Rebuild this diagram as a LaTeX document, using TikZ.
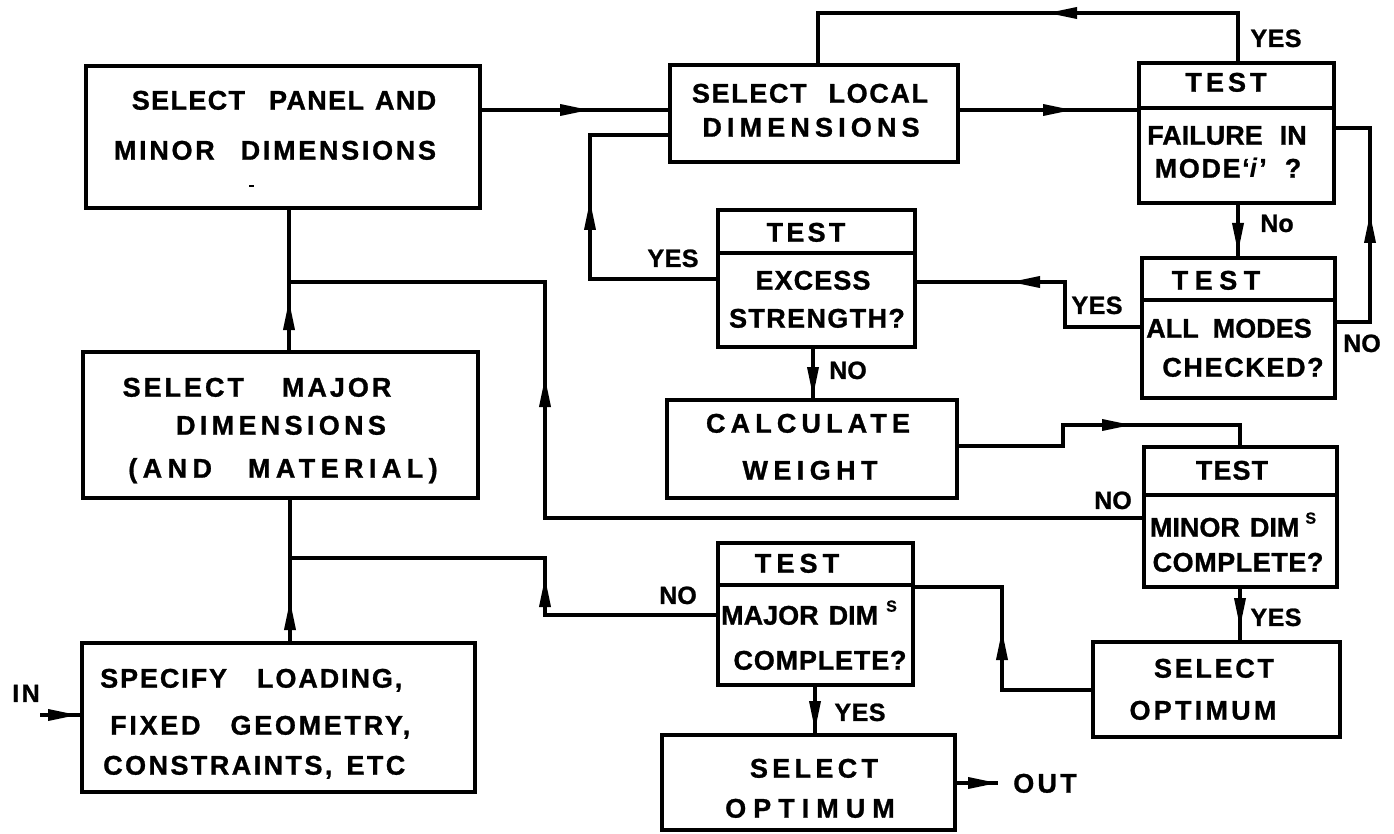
\documentclass[tikz,border=0pt]{standalone}
\usepackage{fontspec}
\setmainfont{Liberation Sans}[BoldFeatures={FakeBold=1}]
\usetikzlibrary{arrows.meta}
\newcommand{\lsp}[2]{{\addfontfeature{LetterSpace=#1}#2}}
\newcommand{\supS}{\raisebox{13pt}{\fontsize{16}{16}\selectfont S}}
\begin{document}
\begin{tikzpicture}[x=1pt,y=-1pt,
  box/.style={draw, line width=3.8pt, inner sep=0pt, rectangle},
  conn/.style={line width=3.5pt, line join=miter},
  ahead/.style={line width=3.5pt, -{Triangle[length=30pt,width=11pt]}},
  txt/.style={font=\fontsize{27}{30}\selectfont\bfseries, inner sep=0pt, text height=19.3pt, text depth=0pt},
  lbl/.style={font=\fontsize{25}{28}\selectfont\bfseries, inner sep=0pt, text height=17.9pt, text depth=0pt}]
\useasboundingbox (0,0) rectangle (1394,834);

% boxes
\node[box, minimum width=394pt, minimum height=142pt] (A) at (283,137) {};
\node[box, minimum width=395pt, minimum height=146pt] (B) at (280.5,425) {};
\node[box, minimum width=393pt, minimum height=149pt] (C) at (278.5,717.5) {};
\node[box, minimum width=288pt, minimum height=97pt] (L) at (814,113.5) {};
\node[box, minimum width=195pt, minimum height=140pt] (F) at (1236.5,133) {};
\node[box, minimum width=193pt, minimum height=140pt] (M) at (1238.5,328) {};
\node[box, minimum width=197pt, minimum height=137pt] (E) at (816.5,278.5) {};
\node[box, minimum width=290pt, minimum height=98pt] (W) at (812,449) {};
\node[box, minimum width=193pt, minimum height=140pt] (N) at (1240.5,517) {};
\node[box, minimum width=195pt, minimum height=142pt] (J) at (815.5,614) {};
\node[box, minimum width=247pt, minimum height=95pt] (P) at (1216.5,689.5) {};
\node[box, minimum width=293pt, minimum height=95pt] (Q) at (808.5,782.5) {};

% dividers of the test boxes
\draw[line width=3.8pt] (F.west |- 0,108) -- (F.east |- 0,108);
\draw[line width=3.8pt] (M.west |- 0,300) -- (M.east |- 0,300);
\draw[line width=3.8pt] (E.west |- 0,253) -- (E.east |- 0,253);
\draw[line width=3.8pt] (N.west |- 0,495) -- (N.east |- 0,495);
\draw[line width=3.8pt] (J.west |- 0,585) -- (J.east |- 0,585);

% stray mark
\draw[line width=2pt] (249,186) -- (254,186);

% texts
\node[txt] (tA1) at (284,100) {\lsp{5}{SELECT\hspace{24pt}PANEL\hspace{11pt}AND}};
\node[txt] (tA2) at (275,150) {\lsp{10}{MINOR\hspace{26pt}DIMENSIONS}};
\node[txt] (tB1) at (257,387) {\lsp{11}{SELECT\hspace{38pt}MAJOR}};
\node[txt] (tB2) at (281,425) {\lsp{16}{DIMENSIONS}};
\node[txt] (tB3) at (283,468) {\lsp{20}{(AND\hspace{36pt}MATERIAL)}};
\node[txt, anchor=west] (tC1) at (100,678) {\lsp{7}{SPECIFY\hspace{30pt}LOADING,}};
\node[txt, anchor=west] (tC2) at (110,725) {\lsp{10}{FIXED\hspace{30pt}GEOMETRY,}};
\node[txt, anchor=west] (tC3) at (103,765) {\lsp{9}{CONSTRAINTS,\hspace{14pt}ETC}};
\node[txt] (tL1) at (810,93) {\lsp{6}{SELECT\hspace{22pt}LOCAL}};
\node[txt] (tL2) at (811,127) {\lsp{19}{DIMENSIONS}};
\node[txt] (tF0) at (1226,82) {\lsp{15}{TEST}};
\node[txt] (tF1) at (1227,135) {\lsp{0}{FAILURE\hspace{17pt}IN}};
\node[txt] (tF2) at (1228,168) {\lsp{6}{MODE‘\textit{i}’\hspace{18pt}?}};
\node[txt] (tM0) at (1216,280) {\lsp{24}{TEST}};
\node[txt] (tM1) at (1229,328) {\lsp{0}{ALL\hspace{14pt}MODES}};
\node[txt] (tM2) at (1243,367) {\lsp{6}{CHECKED?}};
\node[txt] (tE0) at (806,232) {\lsp{12}{TEST}};
\node[txt] (tE1) at (813,280) {\lsp{4}{EXCESS}};
\node[txt] (tE2) at (817,318) {\lsp{5}{STRENGTH?}};
\node[txt] (tW1) at (808,423) {\lsp{19}{CALCULATE}};
\node[txt] (tW2) at (810,470) {\lsp{20}{WEIGHT}};
\node[txt] (tN0) at (1232,470) {\lsp{4}{TEST}};
\node[txt] (tN1) at (1233,527) {MINOR\hspace{10pt}DIM\hspace{6pt}\supS};
\node[txt] (tN2) at (1238,562) {\lsp{2}{COMPLETE?}};
\node[txt] (tJ0) at (797,563) {\lsp{19}{TEST}};
\node[txt] (tJ1) at (809,615) {MAJOR\hspace{10pt}DIM\hspace{8pt}\supS};
\node[txt] (tJ2) at (820,660) {\lsp{3}{COMPLETE?}};
\node[txt] (tP1) at (1214,668) {\lsp{10}{SELECT}};
\node[txt] (tP2) at (1203,710) {\lsp{12}{OPTIMUM}};
\node[txt] (tQ1) at (814,768) {\lsp{16}{SELECT}};
\node[txt] (tQ2) at (810,808) {\lsp{26}{OPTIMUM}};

% labels
\node[lbl] (lFy) at (1276,38) {\lsp{2}{YES}};
\node[lbl] (lFn) at (1277,223) {No};
\node[lbl] (lMn) at (1362,343) {NO};
\node[lbl] (lMy) at (1097,305) {\lsp{2}{YES}};
\node[lbl] (lEy) at (673,258) {\lsp{2}{YES}};
\node[lbl] (lEn) at (848,370) {NO};
\node[lbl] (lNn) at (1113,500) {NO};
\node[lbl] (lNy) at (1276,617) {\lsp{2}{YES}};
\node[lbl] (lJn) at (678,595) {NO};
\node[lbl] (lJy) at (860,712) {\lsp{2}{YES}};
\node[txt] (lout) at (1045,783) {\lsp{12}{OUT}};
\node[lbl] (lin) at (26,693) {\lsp{10}{IN}};

% connectors
\coordinate (out) at (998,783);
\coordinate (in) at (40,715);
\draw[conn] (C.north -| 290,0) -- (B.south -| 290,0);
\draw[ahead] (290,632) -- (290,600);
\draw[conn] (B.north -| 289,0) -- (A.south -| 289,0);
\draw[ahead] (289,337) -- (289,300);
\draw[conn] (J.west |- 0,615) -- (545,615) -- (545,558) -- (290,558);
\draw[ahead] (545,611) -- (545,577);
\draw[conn] (N.west |- 0,518) -- (545,518) -- (545,282) -- (289,282);
\draw[ahead] (545,420) -- (545,377);
\draw[conn] (A.east |- 0,110) -- (L.west |- 0,110);
\draw[ahead] (555,110) -- (590,110);
\draw[conn] (L.east |- 0,110) -- (F.west |- 0,110);
\draw[ahead] (1041,110) -- (1073,110);
\draw[conn] (F.north -| 1238,0) -- (1238,13) -- (818,13) -- (L.north -| 818,0);
\draw[ahead] (1079,13) -- (1047,13);
\draw[conn] (F.south -| 1238,0) -- (M.north -| 1238,0);
\draw[ahead] (1238,216) -- (1238,253);
\draw[conn] (M.east |- 0,322) -- (1370,322) -- (1370,128) -- (F.east |- 0,128);
\draw[ahead] (1370,247) -- (1370,213);
\draw[conn] (M.west |- 0,327) -- (1065,327) -- (1065,282) -- (E.east |- 0,282);
\draw[ahead] (1042,282) -- (1010,282);
\draw[conn] (E.west |- 0,279) -- (590,279) -- (590,135) -- (L.west |- 0,135);
\draw[ahead] (590,232) -- (590,200);
\draw[conn] (E.south -| 813,0) -- (W.north -| 813,0);
\draw[ahead] (813,363) -- (813,397);
\draw[conn] (W.east |- 0,446) -- (1063,446) -- (1063,425) -- (1240,425) -- (N.north -| 1240,0);
\draw[ahead] (1100,425) -- (1132,425);
\draw[conn] (N.south -| 1240,0) -- (P.north -| 1240,0);
\draw[ahead] (1240,595) -- (1240,628);
\draw[conn] (P.west |- 0,690) -- (1002,690) -- (1002,587) -- (J.east |- 0,587);
\draw[ahead] (1002,664) -- (1002,630);
\draw[conn] (J.south -| 815,0) -- (Q.north -| 815,0);
\draw[ahead] (815,698) -- (815,731);
\draw[conn] (Q.east |- 0,783) -- (out);
\draw[ahead] (966,783) -- (out);
\draw[conn] (in) -- (C.west |- 0,715);
\draw[ahead] (48,715) -- (78,715);
\end{tikzpicture}
\end{document}
